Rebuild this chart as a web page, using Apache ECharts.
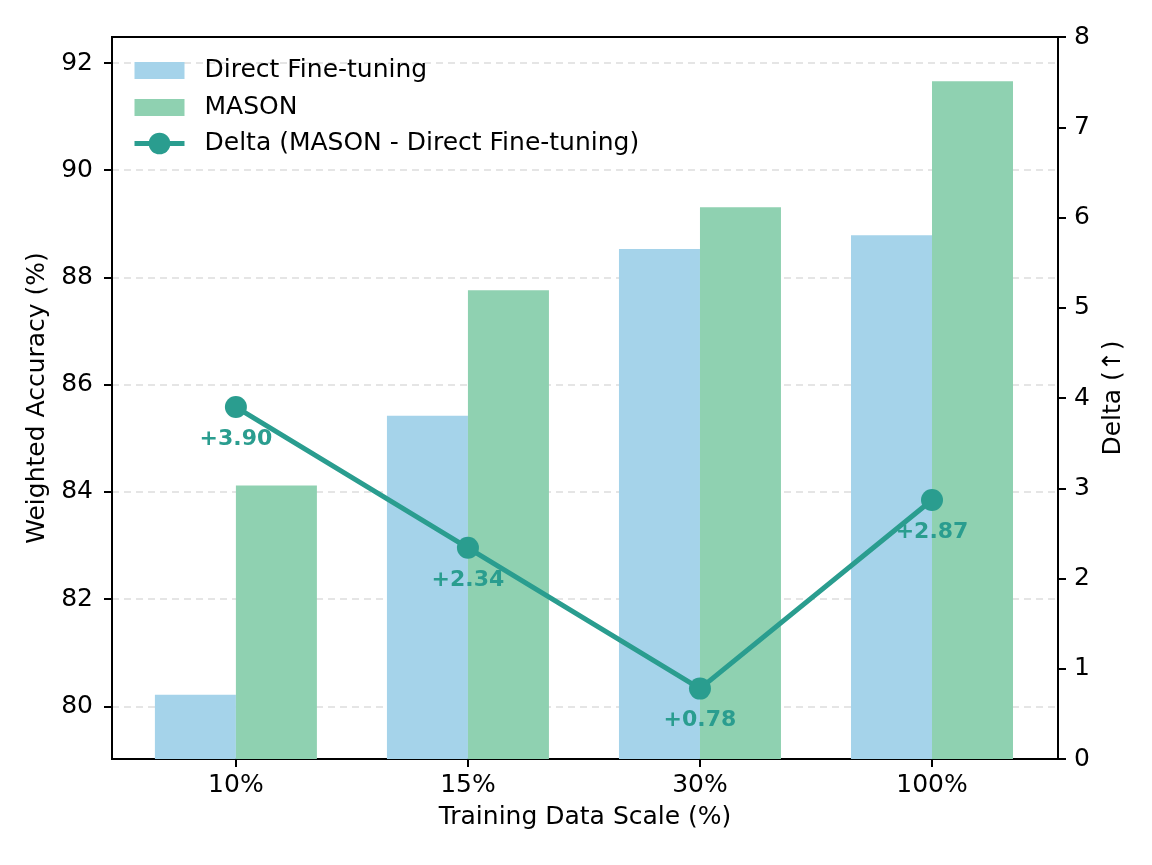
<!DOCTYPE html>
<html>
<head>
<meta charset="utf-8">
<script src="https://cdn.jsdelivr.net/npm/echarts@6/dist/echarts.min.js"></script>
<style>
html,body{margin:0;padding:0;background:#fff;}
#chart{width:1152px;height:865px;}
</style>
</head>
<body>
<div id="chart"></div>
<script>
// ---- data ----
const categories = ['10%', '15%', '30%', '100%'];
const directFT = [80.22, 85.42, 88.53, 88.79];
const mason = [84.12, 87.76, 89.31, 91.66];
const delta = [3.90, 2.34, 0.78, 2.87];
const leftTicks = [80, 82, 84, 86, 88, 90, 92];
const rightTicks = [0, 1, 2, 3, 4, 5, 6, 7, 8];

const FONT = 'DejaVu Sans';
const chart = echarts.init(document.getElementById('chart'), null, {renderer: 'canvas'});

const catIdx = categories.map((c, i) => i);
const pairs = arr => arr.map((v, i) => [i, v]);
// bar legend patch: 50x17 rectangle centred in a 50x27 box
const barIcon = 'path://M0,0 L0.01,0 M0,5 L50,5 L50,22 L0,22 Z M50,27 L49.99,27';

const option = {
  backgroundColor: '#fff',
  animation: false,
  textStyle: {fontFamily: FONT, color: '#000'},
  grid: {left: 112, right: 94, top: 37, bottom: 106, show: true, borderColor: '#000', borderWidth: 2, backgroundColor: 'transparent'},
  legend: {
    orient: 'vertical', left: 132, top: 57, padding: 0, itemWidth: 50, itemHeight: 27, itemGap: 10,
    textStyle: {fontFamily: FONT, fontSize: 25, color: '#000', padding: [0, 0, 0, 15]},
    data: [
      {name: 'Direct Fine-tuning', icon: barIcon},
      {name: 'MASON', icon: barIcon},
      {name: 'Delta (MASON - Direct Fine-tuning)', lineStyle: {width: 5}}
    ]
  },
  xAxis: {
    type: 'value', min: -0.534, max: 3.543,
    axisLine: {show: true, onZero: false, lineStyle: {color: '#000', width: 2}},
    axisTick: {show: true, customValues: catIdx, length: 8, lineStyle: {color: '#000', width: 2}},
    axisLabel: {customValues: catIdx, formatter: v => categories[Math.round(v)] || '', fontSize: 25, color: '#000', margin: 14, fontFamily: FONT},
    splitLine: {show: false},
    name: 'Training Data Scale (%)', nameLocation: 'middle', nameGap: 46,
    nameTextStyle: {fontSize: 25, color: '#000', fontFamily: FONT}
  },
  yAxis: [
    {
      type: 'value', min: 79.02, max: 92.485,
      axisLine: {show: true, onZero: false, lineStyle: {color: '#000', width: 2}},
      axisTick: {show: true, inside: false, customValues: leftTicks, length: 8, lineStyle: {color: '#000', width: 2}},
      axisLabel: {customValues: leftTicks, fontSize: 25, color: '#000', margin: 19, fontFamily: FONT},
      splitLine: {show: true, lineStyle: {color: '#dddddd', width: 1.5, type: [7, 5]}},
      name: 'Weighted Accuracy (%)', nameLocation: 'middle', nameGap: 62,
      nameTextStyle: {fontSize: 25, color: '#000', fontFamily: FONT}
    },
    {
      type: 'value', min: 0, max: 8, interval: 1, position: 'right',
      axisLine: {show: true, onZero: false, lineStyle: {color: '#000', width: 2}},
      axisTick: {show: true, inside: false, length: 8, lineStyle: {color: '#000', width: 2}},
      axisLabel: {fontSize: 25, color: '#000', margin: 16, fontFamily: FONT},
      splitLine: {show: false},
      name: 'Delta (↑)', nameLocation: 'middle', nameGap: 40, nameRotate: 90,
      nameTextStyle: {fontSize: 25, color: '#000', fontFamily: FONT}
    }
  ],
  series: [
    {
      name: 'Direct Fine-tuning', type: 'bar', data: pairs(directFT), barWidth: 81, barGap: '0%',
      itemStyle: {color: '#A5D3EA'}, z: 2
    },
    {
      name: 'MASON', type: 'bar', data: pairs(mason), barWidth: 81, barGap: '0%',
      itemStyle: {color: '#8FD1B1'}, z: 2
    },
    {
      name: 'Delta (MASON - Direct Fine-tuning)', type: 'line', yAxisIndex: 1, data: pairs(delta),
      symbol: 'circle', symbolSize: 22,
      lineStyle: {color: '#2A9D8F', width: 5}, itemStyle: {color: '#2A9D8F'}, z: 5,
      label: {
        show: true, position: 'inside', offset: [0, 32],
        formatter: p => '+' + p.value[1].toFixed(2),
        fontSize: 22, fontWeight: 'bold', color: '#2A9D8F', fontFamily: FONT
      }
    }
  ]
};
chart.setOption(option);
</script>
</body>
</html>
